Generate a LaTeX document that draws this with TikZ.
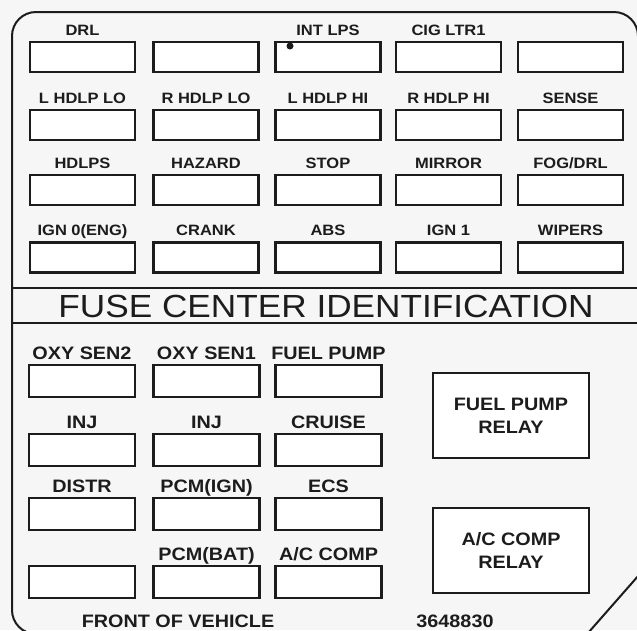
\documentclass[tikz,border=0pt]{standalone}
\usepackage{fontspec}
\newfontfamily\fusefont[FakeStretch=1.1]{Liberation Sans}
\newfontfamily\tagfont[FakeStretch=1.1]{Liberation Sans Bold}
\usetikzlibrary{positioning}
\definecolor{panel}{RGB}{246,246,246}
\definecolor{ink}{RGB}{28,28,28}

\begin{document}
\begin{tikzpicture}[x=1pt, y=-1pt,
   edge/.style={draw=ink, line width=2pt},
   fuse/.style={rectangle, draw=ink, line width=2.2pt, fill=white, minimum width=105pt,
                minimum height=30pt, inner sep=0pt},
   bfuse/.style={fuse, minimum width=106pt, minimum height=32pt},
   relay/.style={rectangle, draw=ink, line width=2pt, fill=white, minimum width=156pt,
                 minimum height=85pt, align=center, text=ink,
                 font=\tagfont\fontsize{18pt}{23pt}\selectfont},
   small/.style={font=\tagfont\fontsize{15pt}{18pt}\selectfont, text=ink, inner sep=0pt,
                 text height=11pt, text depth=0pt},
   big/.style={small, font=\tagfont\fontsize{18pt}{21pt}\selectfont, text height=13pt},
   tag/.style={small, yshift=5.5pt},
   btag/.style={big, yshift=4.5pt}]
  \useasboundingbox (0,0) rectangle (637,630);
  \fill[panel] (0,0) rectangle (637,630);
  \clip (0,0) rectangle (637,630);

  % outline of the fuse center cover
  \draw[edge, rounded corners=24pt] (120,634) -- (12,634) -- (12,12) -- (638,12) -- (638,600);
  \draw[edge] (646,567) -- (581,641);
  \draw[edge] (12,288) -- (638,288);
  \draw[edge] (12,323) -- (638,323);
  \node[font=\fusefont\fontsize{32pt}{36pt}\selectfont, text=ink] (title) at (326,306)
       {FUSE CENTER IDENTIFICATION};

  % upper fuse block
  \node[fuse, label={[tag]above:DRL}] (drl) at (82.5,57) {};
  \node[fuse] (sparea) at (206,57) {};
  \node[fuse, label={[tag]above:INT LPS}] (intlps) at (328,57) {};
  \node[fuse, label={[tag]above:CIG LTR1}] (cigltr) at (448.5,57) {};
  \node[fuse] (spareb) at (570.5,57) {};
  \fill[ink] (290,46) circle (3.5pt);

  \node[fuse, label={[tag]above:L HDLP LO}] (lhlo) at (82.5,125) {};
  \node[fuse, label={[tag]above:R HDLP LO}] (rhlo) at (206,125) {};
  \node[fuse, label={[tag]above:L HDLP HI}] (lhhi) at (328,125) {};
  \node[fuse, label={[tag]above:R HDLP HI}] (rhhi) at (448.5,125) {};
  \node[fuse, label={[tag]above:SENSE}] (sense) at (570.5,125) {};

  \node[fuse, label={[tag]above:HDLPS}] (hdlps) at (82.5,190) {};
  \node[fuse, label={[tag]above:HAZARD}] (hazard) at (206,190) {};
  \node[fuse, label={[tag]above:STOP}] (stop) at (328,190) {};
  \node[fuse, label={[tag]above:MIRROR}] (mirror) at (448.5,190) {};
  \node[fuse, label={[tag]above:FOG/DRL}] (fogdrl) at (570.5,190) {};

  \node[fuse, label={[tag]above:IGN 0(ENG)}] (igneng) at (82.5,257.5) {};
  \node[fuse, label={[tag]above:CRANK}] (crank) at (206,257.5) {};
  \node[fuse, label={[tag]above:ABS}] (abs) at (328,257.5) {};
  \node[fuse, label={[tag]above:IGN 1}] (ignone) at (448.5,257.5) {};
  \node[fuse, label={[tag]above:WIPERS}] (wipers) at (570.5,257.5) {};

  % lower fuse block and relays
  \node[bfuse, label={[btag]above:OXY SEN2}] (oxytwo) at (82,381) {};
  \node[bfuse, label={[btag]above:OXY SEN1}] (oxyone) at (206.5,381) {};
  \node[bfuse, label={[btag]above:FUEL PUMP}] (fuelpump) at (328.5,381) {};

  \node[bfuse, label={[btag]above:INJ}] (inja) at (82,450) {};
  \node[bfuse, label={[btag]above:INJ}] (injb) at (206.5,450) {};
  \node[bfuse, label={[btag]above:CRUISE}] (cruise) at (328.5,450) {};

  \node[bfuse, label={[btag]above:DISTR}] (distr) at (82,514) {};
  \node[bfuse, label={[btag]above:PCM(IGN)}] (pcmign) at (206.5,514) {};
  \node[bfuse, label={[btag]above:ECS}] (ecs) at (328.5,514) {};

  \node[bfuse] (sparec) at (82,582) {};
  \node[bfuse, label={[btag]above:PCM(BAT)}] (pcmbat) at (206.5,582) {};
  \node[bfuse, label={[btag]above:A/C COMP}] (accomp) at (328.5,582) {};

  \node[relay] (fprelay) at (511,415.5) {FUEL PUMP\\RELAY};
  \node[relay] (acrelay) at (511,550.5) {A/C COMP\\RELAY};

  \node[big] (front) at (178,621) {FRONT OF VEHICLE};
  \node[big] (partno) at (455,621) {3648830};
\end{tikzpicture}
\end{document}
